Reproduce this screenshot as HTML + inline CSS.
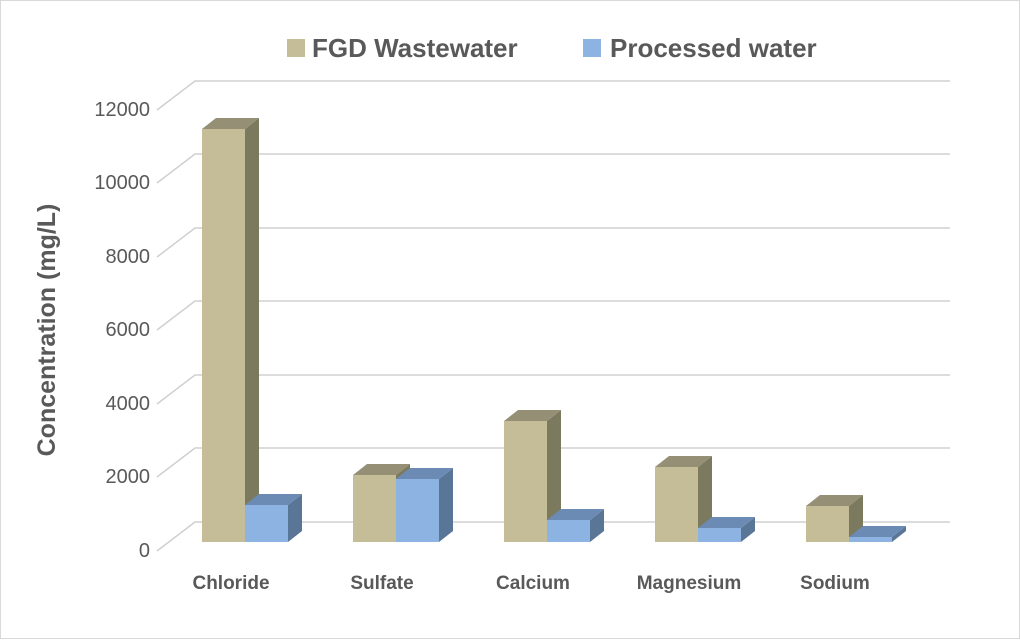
<!DOCTYPE html>
<html><head><style>body{margin:0}</style></head><body>
<svg width="1020" height="639" xmlns="http://www.w3.org/2000/svg" font-family="Liberation Sans, sans-serif">
<rect x="0.5" y="0.5" width="1019" height="638" fill="#fff" stroke="#d9d9d9"/>
<g stroke="#d0d0d0" stroke-width="1.5" fill="none">
<polyline points="157,551 195,522 950,522"/>
<polyline points="157,477 195,448 950,448"/>
<polyline points="157,404 195,375 950,375"/>
<polyline points="157,330 195,301 950,301"/>
<polyline points="157,257 195,228 950,228"/>
<polyline points="157,183 195,154 950,154"/>
<polyline points="157,110 195,81 950,81"/>
</g>
<g font-size="20" fill="#595959" text-anchor="end">
<text x="150" y="557">0</text><text x="150" y="483">2000</text><text x="150" y="410">4000</text>
<text x="150" y="336">6000</text><text x="150" y="263">8000</text><text x="150" y="189">10000</text><text x="150" y="116">12000</text>
</g>
<text transform="translate(55,330) rotate(-90)" text-anchor="middle" font-size="25" font-weight="bold" fill="#595959">Concentration (mg/L)</text>
<rect x="287" y="39" width="18" height="18" fill="#c4bd97"/>
<text x="312" y="57" font-size="26" font-weight="bold" fill="#595959">FGD Wastewater</text>
<rect x="583" y="39" width="18" height="18" fill="#8db3e2"/>
<text x="610" y="57" font-size="26" font-weight="bold" fill="#595959">Processed water</text>

<!-- Chloride -->
<polygon points="245,129 259,118 259,531 245,542" fill="#7b7a5e"/>
<polygon points="202,129 216,118 259,118 245,129" fill="#948f75"/>
<rect x="202" y="129" width="43" height="413" fill="#c4bd97"/>
<polygon points="288,505 302,494 302,531 288,542" fill="#5a7697"/>
<polygon points="245,505 259,494 302,494 288,505" fill="#6b8bb5"/>
<rect x="245" y="505" width="43" height="37" fill="#8db3e2"/>
<!-- Sulfate -->
<polygon points="396,475 410,464 410,531 396,542" fill="#7b7a5e"/>
<polygon points="353,475 367,464 410,464 396,475" fill="#948f75"/>
<rect x="353" y="475" width="43" height="67" fill="#c4bd97"/>
<polygon points="439,479 453,468 453,531 439,542" fill="#5a7697"/>
<polygon points="396,479 410,468 453,468 439,479" fill="#6b8bb5"/>
<rect x="396" y="479" width="43" height="63" fill="#8db3e2"/>
<!-- Calcium -->
<polygon points="547,421 561,410 561,531 547,542" fill="#7b7a5e"/>
<polygon points="504,421 518,410 561,410 547,421" fill="#948f75"/>
<rect x="504" y="421" width="43" height="121" fill="#c4bd97"/>
<polygon points="590,520 604,509 604,531 590,542" fill="#5a7697"/>
<polygon points="547,520 561,509 604,509 590,520" fill="#6b8bb5"/>
<rect x="547" y="520" width="43" height="22" fill="#8db3e2"/>
<!-- Magnesium -->
<polygon points="698,467 712,456 712,531 698,542" fill="#7b7a5e"/>
<polygon points="655,467 669,456 712,456 698,467" fill="#948f75"/>
<rect x="655" y="467" width="43" height="75" fill="#c4bd97"/>
<polygon points="741,528 755,517 755,531 741,542" fill="#5a7697"/>
<polygon points="698,528 712,517 755,517 741,528" fill="#6b8bb5"/>
<rect x="698" y="528" width="43" height="14" fill="#8db3e2"/>
<!-- Sodium -->
<polygon points="849,506 863,495 863,531 849,542" fill="#7b7a5e"/>
<polygon points="806,506 820,495 863,495 849,506" fill="#948f75"/>
<rect x="806" y="506" width="43" height="36" fill="#c4bd97"/>
<polygon points="892,537 906,526 906,531 892,542" fill="#5a7697"/>
<polygon points="849,537 863,526 906,526 892,537" fill="#6b8bb5"/>
<rect x="849" y="537" width="43" height="5" fill="#8db3e2"/>

<g font-size="19" font-weight="bold" fill="#595959" text-anchor="middle">
<text x="231" y="589">Chloride</text><text x="382" y="589">Sulfate</text><text x="533" y="589">Calcium</text>
<text x="689" y="589">Magnesium</text><text x="835" y="589">Sodium</text>
</g>
</svg>
</body></html>
